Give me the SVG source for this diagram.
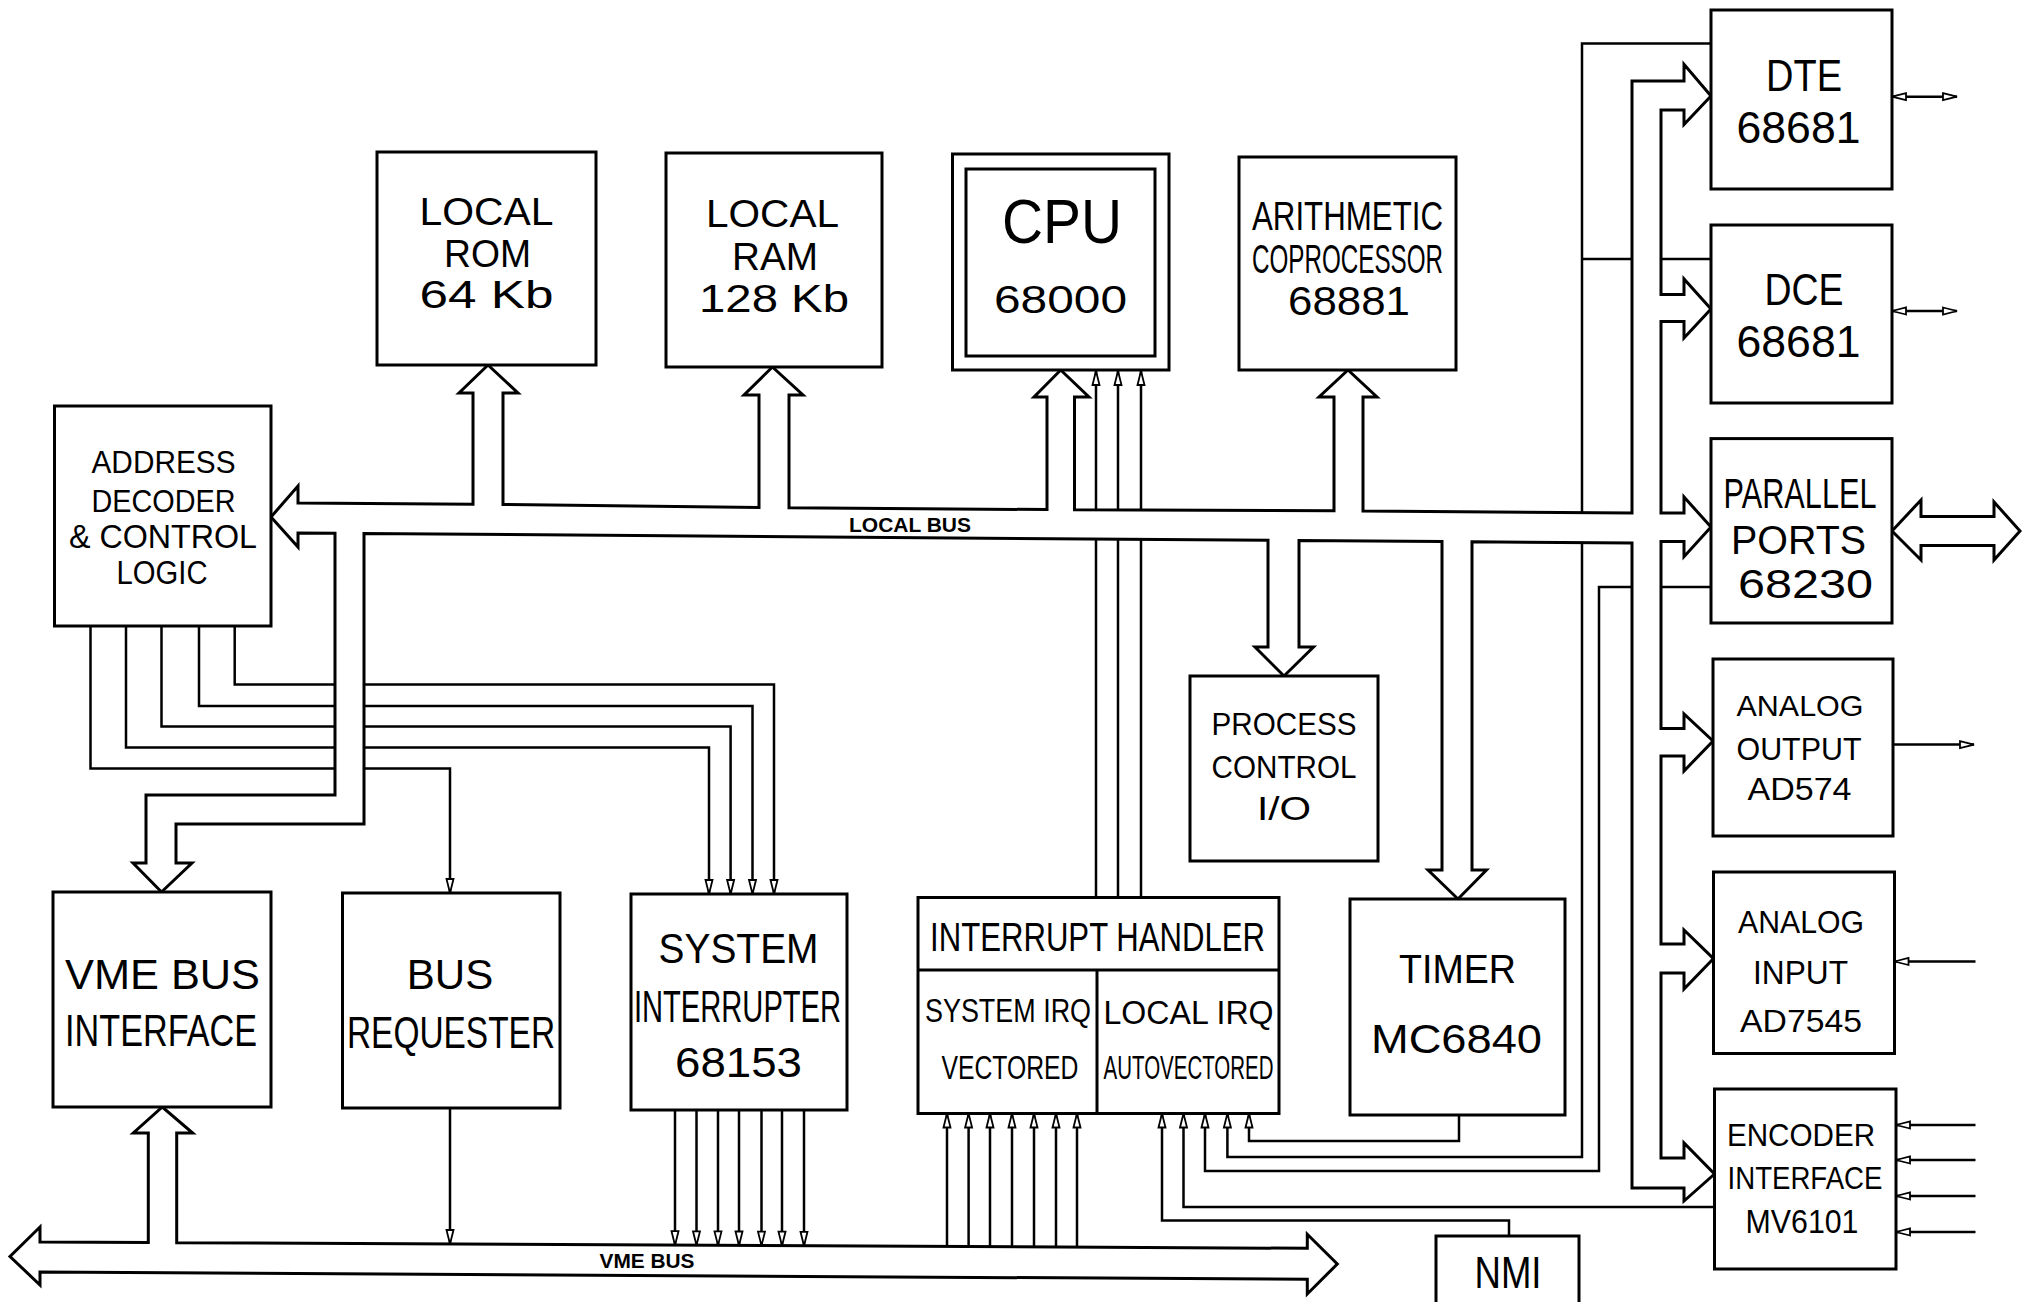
<svg xmlns="http://www.w3.org/2000/svg" width="2022" height="1302" viewBox="0 0 2022 1302">
<style>
.bx{fill:#fff;stroke:#000;stroke-width:3}
.w{fill:none;stroke:#000;stroke-width:2.5}
.bus{fill:#fff;stroke:#000;stroke-width:3;stroke-linejoin:miter}
text{font-family:"Liberation Sans",Arial,sans-serif;fill:#000;text-anchor:middle}
.lb{font-weight:bold}
</style>
<defs>
<marker id="ah" viewBox="-16 -6 18 12" refX="0" refY="0" markerWidth="18" markerHeight="12" orient="auto-start-reverse" markerUnits="userSpaceOnUse">
<path d="M-14,-3.5 L0,0 L-14,3.5 Z" fill="#fff" stroke="#000" stroke-width="1.8"/>
</marker>
</defs>
<rect width="2022" height="1302" fill="#fff"/>
<g id="connectors">
<path class="w" d="M234.7,626 V684.5 H774 V894" marker-end="url(#ah)"/>
<path class="w" d="M199,626 V706 H752.5 V894" marker-end="url(#ah)"/>
<path class="w" d="M161.5,626 V726.5 H730.6 V894" marker-end="url(#ah)"/>
<path class="w" d="M126,626 V747.5 H709 V894" marker-end="url(#ah)"/>
<path class="w" d="M90.5,626 V768.5 H450 V893" marker-end="url(#ah)"/>
<path class="w" d="M450,1108 V1244" marker-end="url(#ah)"/>
<path class="w" d="M675,1110 V1245.2" marker-end="url(#ah)"/>
<path class="w" d="M696.5,1110 V1245.3" marker-end="url(#ah)"/>
<path class="w" d="M718,1110 V1245.4" marker-end="url(#ah)"/>
<path class="w" d="M739,1110 V1245.5" marker-end="url(#ah)"/>
<path class="w" d="M761.5,1110 V1245.6" marker-end="url(#ah)"/>
<path class="w" d="M782,1110 V1245.7" marker-end="url(#ah)"/>
<path class="w" d="M804,1110 V1245.8" marker-end="url(#ah)"/>
<path class="w" d="M947,1246.5 V1113.5" marker-end="url(#ah)"/>
<path class="w" d="M968.6,1246.6 V1113.5" marker-end="url(#ah)"/>
<path class="w" d="M990,1246.7 V1113.5" marker-end="url(#ah)"/>
<path class="w" d="M1012,1246.8 V1113.5" marker-end="url(#ah)"/>
<path class="w" d="M1034,1247 V1113.5" marker-end="url(#ah)"/>
<path class="w" d="M1056,1247.1 V1113.5" marker-end="url(#ah)"/>
<path class="w" d="M1077,1247.2 V1113.5" marker-end="url(#ah)"/>
<path class="w" d="M1459,1115 V1141 H1249 V1113.5" marker-end="url(#ah)"/>
<path class="w" d="M1711,43.6 H1582 V1157 H1227.4 V1113.5" marker-end="url(#ah)"/>
<path class="w" d="M1582,259 H1711"/>
<path class="w" d="M1711,587 H1599 V1171 H1205 V1113.5" marker-end="url(#ah)"/>
<path class="w" d="M1714.5,1207 H1183.5 V1113.5" marker-end="url(#ah)"/>
<path class="w" d="M1509,1236 V1220.5 H1162 V1113.5" marker-end="url(#ah)"/>
<path class="w" d="M1096,897.5 V371" marker-end="url(#ah)"/>
<path class="w" d="M1118,897.5 V371" marker-end="url(#ah)"/>
<path class="w" d="M1141,897.5 V371" marker-end="url(#ah)"/>
<path class="w" d="M1892,96.7 H1957" marker-start="url(#ah)" marker-end="url(#ah)"/>
<path class="w" d="M1892,311 H1957" marker-start="url(#ah)" marker-end="url(#ah)"/>
<path class="w" d="M1893,744.6 H1974" marker-end="url(#ah)"/>
<path class="w" d="M1975.5,961.5 H1894.5" marker-end="url(#ah)"/>
<path class="w" d="M1975.5,1125 H1896" marker-end="url(#ah)"/>
<path class="w" d="M1975.5,1160 H1896" marker-end="url(#ah)"/>
<path class="w" d="M1975.5,1196 H1896" marker-end="url(#ah)"/>
<path class="w" d="M1975.5,1232 H1896" marker-end="url(#ah)"/>
<polygon id="local-bus" class="bus" points="473,504.3 473,393 459,393 488,365 518,393 503,393 503,504.5 759,507.4 759,395 744,395 772.4,367 803,395 789,395 789,507.7 1047,509.6 1047,397 1034,397 1060.7,370 1089,397 1074.5,397 1074.5,509.8 1334,510.8 1334,397 1319,397 1348,370 1377,397 1363,397 1363,511 1632,513 1632,81 1684,81 1684,64.3 1711,96 1684,124.5 1684,110 1661,110 1661,294.6 1684,294.6 1684,279 1711,309 1684,338 1684,321.6 1661,321.6 1661,513 1684,513 1684,497 1711,527 1684,556.7 1684,541.5 1661,541.5 1661,728.6 1684,728.6 1684,714 1713,741 1684,771 1684,756 1661,756 1661,944 1684,944 1684,930 1713.5,958.6 1684,989 1684,973 1661,973 1661,1158 1684,1158 1684,1143 1714.5,1174 1684,1201 1684,1188 1632,1188 1632,543 1472,541.8 1472,870 1486.5,870 1458,899 1428,870 1442,870 1442,541.6 1299,540.5 1299,647 1313.5,647 1284,676 1255,647 1268,647 1268,540.3 364,533.5 364,824 176,824 176,863 192,863 161.5,892 133,863 146,863 146,795 335,795 335,533.3 298,533 298,547 271,517 298,486 298,503"/>
<polygon id="vme-bus" class="bus" points="40,1242 148.3,1242.5 148.3,1133 133.3,1133 162.3,1107 192.7,1133 176.7,1133 176.7,1242.7 1307.3,1248.3 1307.3,1234.3 1337.3,1264 1307.3,1294 1307.3,1279.3 40,1272 40,1285 10,1256.5 40,1227"/>
<polygon id="parallel-io" class="bus" points="1892,531 1921,500 1921,516.6 1994,516.6 1994,502 2020,531 1994,560 1994,545.6 1921,545.6 1921,560"/>
<text class="lb" x="910" y="532" font-size="21" textLength="122" lengthAdjust="spacingAndGlyphs">LOCAL BUS</text>
<text class="lb" x="647" y="1268" font-size="21" textLength="95" lengthAdjust="spacingAndGlyphs">VME BUS</text>
</g>
<g id="local-rom">
<rect class="bx" x="377" y="152" width="219" height="213"/>
<text transform="translate(486.5,225) scale(1.048,1)" font-size="39" textLength="127.9" lengthAdjust="spacingAndGlyphs">LOCAL</text>
<text transform="translate(487.5,267) scale(0.956,1)" font-size="39" textLength="91" lengthAdjust="spacingAndGlyphs">ROM</text>
<text transform="translate(486.5,308) scale(1.315,1)" font-size="39" textLength="101.9" lengthAdjust="spacingAndGlyphs">64 Kb</text>
</g>
<g id="local-ram">
<rect class="bx" x="666" y="153" width="216" height="214"/>
<text transform="translate(772.5,227) scale(1.04,1)" font-size="39" textLength="127.9" lengthAdjust="spacingAndGlyphs">LOCAL</text>
<text transform="translate(775,270) scale(0.992,1)" font-size="39" textLength="86.7" lengthAdjust="spacingAndGlyphs">RAM</text>
<text transform="translate(774,312) scale(1.214,1)" font-size="39" textLength="123.6" lengthAdjust="spacingAndGlyphs">128 Kb</text>
</g>
<g id="cpu">
<rect class="bx" x="952.5" y="154" width="216.5" height="216"/>
<rect class="bx" x="966" y="169" width="189" height="187"/>
<text transform="translate(1062,243) scale(0.902,1)" font-size="63" textLength="133" lengthAdjust="spacingAndGlyphs">CPU</text>
<text transform="translate(1060.5,313) scale(1.227,1)" font-size="39" textLength="108.4" lengthAdjust="spacingAndGlyphs">68000</text>
</g>
<g id="coprocessor">
<rect class="bx" x="1239" y="157" width="217" height="213"/>
<text transform="translate(1347.5,230) scale(0.762,1)" font-size="41" textLength="250.6" lengthAdjust="spacingAndGlyphs">ARITHMETIC</text>
<text transform="translate(1347.5,273) scale(0.592,1)" font-size="41" textLength="322.7" lengthAdjust="spacingAndGlyphs">COPROCESSOR</text>
<text transform="translate(1349,315) scale(1.07,1)" font-size="41" textLength="114" lengthAdjust="spacingAndGlyphs">68881</text>
</g>
<g id="address-decoder">
<rect class="bx" x="54.5" y="406" width="216.5" height="220"/>
<text transform="translate(163.5,473) scale(0.931,1)" font-size="32" textLength="154.7" lengthAdjust="spacingAndGlyphs">ADDRESS</text>
<text transform="translate(163.5,512) scale(0.9,1)" font-size="32" textLength="160" lengthAdjust="spacingAndGlyphs">DECODER</text>
<text transform="translate(163,548) scale(0.977,1)" font-size="33" textLength="192.5" lengthAdjust="spacingAndGlyphs">&amp; CONTROL</text>
<text transform="translate(162,584) scale(0.886,1)" font-size="33" textLength="102.7" lengthAdjust="spacingAndGlyphs">LOGIC</text>
</g>
<g id="vme-bus-interface">
<rect class="bx" x="53" y="892" width="218" height="215"/>
<text x="162.5" y="989" font-size="43" textLength="195" lengthAdjust="spacingAndGlyphs">VME BUS</text>
<text transform="translate(161,1046) scale(0.77,1)" font-size="44" textLength="249.3" lengthAdjust="spacingAndGlyphs">INTERFACE</text>
</g>
<g id="bus-requester">
<rect class="bx" x="342.5" y="893" width="217.5" height="215"/>
<text transform="translate(450,989) scale(0.978,1)" font-size="43" textLength="88.4" lengthAdjust="spacingAndGlyphs">BUS</text>
<text transform="translate(451,1048) scale(0.76,1)" font-size="44" textLength="273.8" lengthAdjust="spacingAndGlyphs">REQUESTER</text>
</g>
<g id="system-interrupter">
<rect class="bx" x="631" y="894" width="216" height="216"/>
<text transform="translate(738.5,963) scale(0.905,1)" font-size="43" textLength="176.8" lengthAdjust="spacingAndGlyphs">SYSTEM</text>
<text transform="translate(737.5,1022) scale(0.662,1)" font-size="44" textLength="312.9" lengthAdjust="spacingAndGlyphs">INTERRUPTER</text>
<text transform="translate(738.5,1077) scale(1.063,1)" font-size="43" textLength="119.5" lengthAdjust="spacingAndGlyphs">68153</text>
</g>
<g id="interrupt-handler">
<rect class="bx" x="918" y="897.5" width="361" height="216"/>
<path class="w" style="stroke-width:3" d="M918,970 H1279 M1097,970 V1113.5"/>
<text transform="translate(1097.5,951) scale(0.777,1)" font-size="40" textLength="431.1" lengthAdjust="spacingAndGlyphs">INTERRUPT HANDLER</text>
<text transform="translate(1008,1022) scale(0.816,1)" font-size="33" textLength="203.5" lengthAdjust="spacingAndGlyphs">SYSTEM IRQ</text>
<text transform="translate(1010,1079) scale(0.747,1)" font-size="33" textLength="183.3" lengthAdjust="spacingAndGlyphs">VECTORED</text>
<text transform="translate(1188.5,1024) scale(0.966,1)" font-size="33" textLength="176.1" lengthAdjust="spacingAndGlyphs">LOCAL IRQ</text>
<text transform="translate(1188.5,1079) scale(0.618,1)" font-size="33" textLength="275" lengthAdjust="spacingAndGlyphs">AUTOVECTORED</text>
</g>
<g id="process-control">
<rect class="bx" x="1190" y="676" width="188" height="185"/>
<text transform="translate(1284,735) scale(0.927,1)" font-size="32" textLength="156.5" lengthAdjust="spacingAndGlyphs">PROCESS</text>
<text transform="translate(1284,778) scale(0.927,1)" font-size="32" textLength="156.4" lengthAdjust="spacingAndGlyphs">CONTROL</text>
<text transform="translate(1284,820) scale(1.19,1)" font-size="34" textLength="45.4" lengthAdjust="spacingAndGlyphs">I/O</text>
</g>
<g id="timer">
<rect class="bx" x="1350" y="899" width="215" height="216"/>
<text transform="translate(1457.5,983) scale(0.917,1)" font-size="41" textLength="127.6" lengthAdjust="spacingAndGlyphs">TIMER</text>
<text transform="translate(1456.5,1053) scale(1.104,1)" font-size="41" textLength="154.9" lengthAdjust="spacingAndGlyphs">MC6840</text>
</g>
<g id="nmi">
<rect class="bx" x="1436" y="1236" width="143" height="90"/>
<text transform="translate(1508,1288) scale(0.83,1)" font-size="44" textLength="80.7" lengthAdjust="spacingAndGlyphs">NMI</text>
</g>
<g id="dte">
<rect class="bx" x="1711" y="10" width="181" height="179"/>
<text transform="translate(1804,91) scale(0.844,1)" font-size="45" textLength="90" lengthAdjust="spacingAndGlyphs">DTE</text>
<text transform="translate(1798.5,143) scale(0.991,1)" font-size="45" textLength="125.1" lengthAdjust="spacingAndGlyphs">68681</text>
</g>
<g id="dce">
<rect class="bx" x="1711" y="225" width="181" height="178"/>
<text transform="translate(1804,305) scale(0.85,1)" font-size="44" textLength="92.9" lengthAdjust="spacingAndGlyphs">DCE</text>
<text transform="translate(1798.5,357) scale(0.991,1)" font-size="45" textLength="125.1" lengthAdjust="spacingAndGlyphs">68681</text>
</g>
<g id="parallel-ports">
<rect class="bx" x="1711" y="438.6" width="181" height="184.4"/>
<text transform="translate(1800,508) scale(0.703,1)" font-size="43" textLength="217.5" lengthAdjust="spacingAndGlyphs">PARALLEL</text>
<text transform="translate(1798.5,554) scale(0.98,1)" font-size="40" textLength="137.8" lengthAdjust="spacingAndGlyphs">PORTS</text>
<text transform="translate(1805.5,598) scale(1.214,1)" font-size="40" textLength="111.2" lengthAdjust="spacingAndGlyphs">68230</text>
</g>
<g id="analog-output">
<rect class="bx" x="1713" y="659" width="180" height="177"/>
<text x="1800" y="716" font-size="30" textLength="127" lengthAdjust="spacingAndGlyphs">ANALOG</text>
<text transform="translate(1799,760) scale(0.95,1)" font-size="32" textLength="131.6" lengthAdjust="spacingAndGlyphs">OUTPUT</text>
<text transform="translate(1799.5,800) scale(1.097,1)" font-size="31" textLength="94.8" lengthAdjust="spacingAndGlyphs">AD574</text>
</g>
<g id="analog-input">
<rect class="bx" x="1713.5" y="872" width="181" height="181.5"/>
<text transform="translate(1801,933) scale(0.975,1)" font-size="31" textLength="129.2" lengthAdjust="spacingAndGlyphs">ANALOG</text>
<text transform="translate(1800.5,984) scale(0.96,1)" font-size="33" textLength="99" lengthAdjust="spacingAndGlyphs">INPUT</text>
<text transform="translate(1801,1032) scale(1.089,1)" font-size="31" textLength="112" lengthAdjust="spacingAndGlyphs">AD7545</text>
</g>
<g id="encoder-interface">
<rect class="bx" x="1714.5" y="1089" width="181.5" height="180"/>
<text transform="translate(1801,1146) scale(0.955,1)" font-size="31" textLength="155" lengthAdjust="spacingAndGlyphs">ENCODER</text>
<text transform="translate(1805,1188.5) scale(0.882,1)" font-size="31" textLength="175.7" lengthAdjust="spacingAndGlyphs">INTERFACE</text>
<text transform="translate(1802,1233) scale(0.919,1)" font-size="33" textLength="122.9" lengthAdjust="spacingAndGlyphs">MV6101</text>
</g>
</svg>
